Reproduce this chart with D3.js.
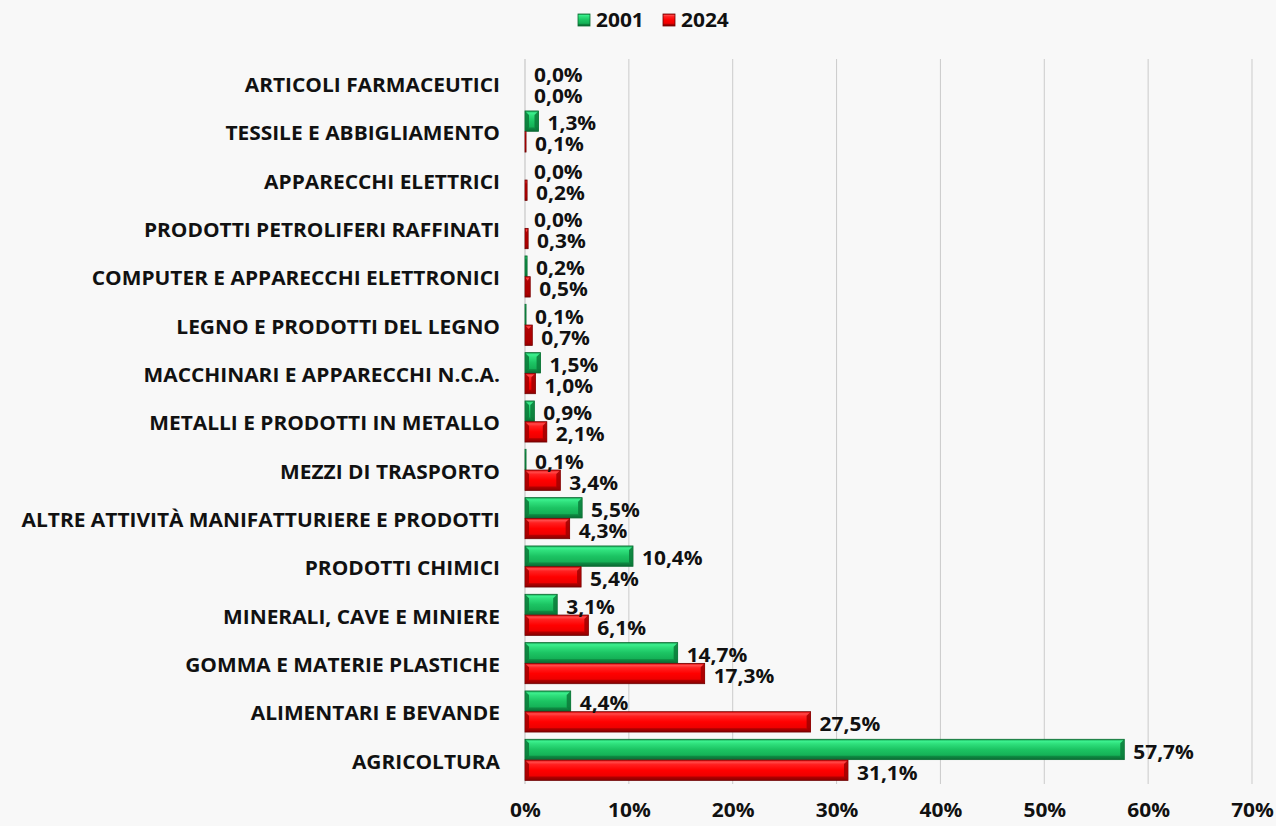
<!DOCTYPE html>
<html><head><meta charset="utf-8">
<script src="https://cdn.jsdelivr.net/npm/d3@7"></script>
<style>
html,body{margin:0;padding:0;background:#f8f8f8;}
text{font-family:"Open Sans",Lato,sans-serif;font-weight:700;fill:#111;}
</style></head>
<body>
<svg id="c" width="1276" height="826"></svg>
<script>
const categories = ["ARTICOLI FARMACEUTICI","TESSILE E ABBIGLIAMENTO","APPARECCHI ELETTRICI","PRODOTTI PETROLIFERI RAFFINATI","COMPUTER E APPARECCHI ELETTRONICI","LEGNO E PRODOTTI DEL LEGNO","MACCHINARI E APPARECCHI N.C.A.","METALLI E PRODOTTI IN METALLO","MEZZI DI TRASPORTO","ALTRE ATTIVITÀ MANIFATTURIERE E PRODOTTI","PRODOTTI CHIMICI","MINERALI, CAVE E MINIERE","GOMMA E MATERIE PLASTICHE","ALIMENTARI E BEVANDE","AGRICOLTURA"];
const values2001 = [0.0,1.3,0.0,0.0,0.2,0.1,1.5,0.9,0.1,5.5,10.4,3.1,14.7,4.4,57.7];
const values2024 = [0.0,0.1,0.2,0.3,0.5,0.7,1.0,2.1,3.4,4.3,5.4,6.1,17.3,27.5,31.1];
const seriesNames = ["2001","2024"];
const xTicks = [0,10,20,30,40,50,60,70];

const SX = 1.1;
const svg = d3.select("#c");
const pL = 525, pR = 1252, pT = 59, pB = 784;
const x = d3.scaleLinear().domain([0,70]).range([pL,pR]);
const y = d3.scaleBand().domain(categories).range([pT,pB]).paddingInner(0.15).paddingOuter(0.075);
const sub = d3.scaleBand().domain(seriesNames).range([0,y.bandwidth()]).paddingInner(0.02);

const defs = svg.append("defs");
function grad(id, stops){
  const g = defs.append("linearGradient").attr("id",id).attr("x1",0).attr("y1",0).attr("x2",0).attr("y2",1);
  stops.forEach(s=>g.append("stop").attr("offset",s[0]).attr("stop-color",s[1]));
}
grad("gG",[[0,"#17a352"],[0.1,"#3cf08e"],[0.22,"#2fe07c"],[0.5,"#1cc463"],[0.78,"#15b257"],[0.84,"#0e8a42"],[1,"#0a6a33"]]);
grad("gR",[[0,"#e00000"],[0.1,"#ff4a4a"],[0.22,"#ff2020"],[0.5,"#ff0000"],[0.78,"#ee0000"],[0.84,"#b00000"],[1,"#870000"]]);
const fills = {"2001":"url(#gG)","2024":"url(#gR)"};
const strokes = {"2001":"#0a6a30","2024":"#6e0000"};
const caps = {"2001":"#0c7a3a","2024":"#a00000"};

// gridlines
svg.append("g").selectAll("line").data(xTicks.slice(1)).join("line")
  .attr("x1",d=>x(d)).attr("x2",d=>x(d)).attr("y1",pT).attr("y2",pB)
  .attr("stroke","#cbcbcb").attr("stroke-width",1);

// axis
const xAxis = d3.axisBottom(x).tickValues(xTicks).tickFormat(d=>d+"%").tickSize(0).tickPadding(20);
const ax = svg.append("g").attr("transform",`translate(0,${pB})`).call(xAxis);
ax.select(".domain").remove();
ax.selectAll("text").attr("font-size",19).style("font-family","'Open Sans'").style("font-weight",700)
  .attr("fill","#111").attr("transform",`scale(${SX},1)`);

svg.append("line").attr("x1",pL).attr("x2",pL).attr("y1",pT).attr("y2",pB).attr("stroke","#bdbdbd");

// category labels
svg.append("g").selectAll("text").data(categories).join("text")
  .attr("transform",d=>`translate(500,${y(d)+y.bandwidth()/2+2}) scale(${SX},1)`)
  .attr("dy","0.36em").attr("text-anchor","end").attr("font-size",19).text(d=>d);

const rows = [];
categories.forEach((c,i)=>{
  rows.push({c,s:"2001",v:values2001[i]});
  rows.push({c,s:"2024",v:values2024[i]});
});

const bars = svg.append("g").selectAll("g").data(rows.filter(r=>r.v>0)).join("g");
bars.append("rect")
  .attr("x",pL).attr("y",d=>y(d.c)+sub(d.s)).attr("height",sub.bandwidth())
  .attr("width",d=>Math.max(1,x(d.v)-pL))
  .attr("fill",d=>fills[d.s]).attr("stroke",d=>strokes[d.s]).attr("stroke-width",0.8);
// bevel end caps
bars.append("path").attr("fill",d=>caps[d.s]).attr("opacity",0.85).attr("d",d=>{
  const x0 = pL, x1 = x(d.v), y0 = y(d.c)+sub(d.s), h = sub.bandwidth();
  const c = Math.min(4, (x1-x0)/2), v = Math.min(4, h/2);
  return `M${x1},${y0}L${x1-c},${y0+v}L${x1-c},${y0+h-v}L${x1},${y0+h}Z` +
         `M${x0},${y0}L${x0+c},${y0+v}L${x0+c},${y0+h-v}L${x0},${y0+h}Z`;
});

svg.append("g").selectAll("text").data(rows).join("text")
  .attr("transform",d=>`translate(${x(d.v)+9},${y(d.c)+sub(d.s)+sub.bandwidth()/2+2.5}) scale(${SX},1)`)
  .attr("dy","0.36em").attr("font-size",19).text(d=>d.v.toFixed(1).replace(".",",")+"%");

// legend
const lg = svg.append("g");
const lx = [578, 663];
seriesNames.forEach((s,i)=>{
  lg.append("rect").attr("x",lx[i]).attr("y",14).attr("width",12).attr("height",12)
    .attr("fill",fills[s]).attr("stroke",strokes[s]).attr("stroke-width",0.8);
  lg.append("text").attr("transform",`translate(${lx[i]+18},20) scale(${SX},1)`)
    .attr("dy","0.36em").attr("font-size",19).text(s);
});
</script>
</body></html>
